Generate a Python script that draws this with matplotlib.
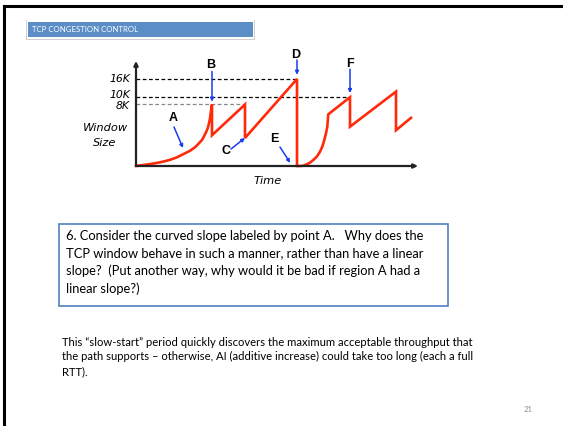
import matplotlib.pyplot as plt
import numpy as np
from matplotlib.patches import Rectangle
from matplotlib.lines import Line2D

# congestion window over time (window in K, time in arbitrary steps)
slow_start_t = [0, 0.7, 1.4, 2.1, 2.7, 3.4, 4.1, 4.7, 5.4, 5.9, 6.2, 6.6, 6.8,
                7.0, 7.17, 7.3, 7.4, 7.47, 7.53, 7.6]
slow_start_w = [0, 0.002, 0.008, 0.02, 0.04, 0.08, 0.16, 0.29, 0.49, 0.74, 1.0,
                1.43, 1.86, 2.4, 3.0, 3.85, 4.8, 5.9, 7.0, 8]
avoid_t = [7.6, 10.9, 10.9, 16.1, 16.1]
avoid_w = [2, 8, 1.66, 16, 0]
restart_t = [16.4, 16.73, 17.07, 17.4, 17.73, 18.07, 18.4, 18.63, 18.83, 19.0,
             19.13, 19.23]
restart_w = [0, 0.0002, 0.006, 0.023, 0.076, 0.18, 0.43, 0.79, 1.43, 2.26,
             3.27, 5.65]
tail_t = [21.4, 21.4, 26.0, 26.0, 27.5]
tail_w = [10, 3.27, 11.7, 2.7, 4.9]

time = slow_start_t + avoid_t + restart_t + tail_t
window = slow_start_w + avoid_w + restart_w + tail_w

# threshold lines: value, label, where the dashed line stops, colour
levels = [16, 10, 8]
level_labels = ['16K', '10K', '8K']
level_ends = [16.1, 21.4, 10.9]
level_colors = ['black', 'black', '#888888']
label_nudge = [0, 2, -2]

# letters: point the arrow hits, arrow tail offset and letter offset (pixels)
letters = ['A', 'B', 'C', 'D', 'E', 'F']
tips = [(4.7, 0.685), (7.6, 8), (10.9, 1.66), (16.1, 16), (15.5, 0.008), (21.4, 10)]
tails = [(-9, 21), (0, 33), (-14, -11), (0, 19), (-11, 17), (0, 28)]
letter_pos = [(-10, 30), (-1, 39), (-19, -13), (-1, 24), (-17, 25), (0, 33)]
tip_gap = [0, 2, 0, 3, 1, 3]

W, H = 563, 426
fig = plt.figure(figsize=(W / 100, H / 100), dpi=100)


def fx(px):
    return px / W


def fy(py):
    return 1 - py / H


# slide frame (top and left edge only)
fig.add_artist(Line2D([fx(4), 1], [fy(6), fy(6)], color='black', lw=2.2))
fig.add_artist(Line2D([fx(4), fx(4)], [fy(6), 0], color='black', lw=2.2))

# title tab
fig.add_artist(Rectangle((fx(26), fy(39.5)), fx(229), 19.5 / H, fc='#d0d0d0', ec='none'))
fig.add_artist(Rectangle((fx(26.5), fy(38.5)), fx(227.5), 18 / H, fc='white', ec='none'))
fig.add_artist(Rectangle((fx(28), fy(37)), fx(225), 15 / H, fc='#5b8ec7', ec='none'))
fig.text(fx(32), fy(29.5), 'TCP CONGESTION CONTROL', color='white', fontsize=5.6,
         family='Lato', va='center', ha='left')

# chart area
ax = fig.add_axes([fx(136), fy(166), fx(418 - 136), (166 - 61) / H])
ax.set_yscale('function', functions=(lambda v: np.sqrt(np.clip(v, 0, None)),
                                     lambda v: np.square(v)))
ax.set_xlim(0, 28.2)
ax.set_ylim(0, 23.3)
ax.axis('off')

for val, lab, end, col, nudge in zip(levels, level_labels, level_ends,
                                     level_colors, label_nudge):
    ax.plot([0, end], [val, val], ls=(0, (3, 2)), color=col, lw=0.9)
    ax.annotate(lab, xy=(0, val), xytext=(-6, nudge), textcoords='offset pixels',
                ha='right', va='center', fontsize=7.8, style='italic',
                family='DejaVu Sans', annotation_clip=False)

ax.annotate('', xy=(0, 1.0), xytext=(0, 0), xycoords='axes fraction',
            arrowprops=dict(arrowstyle='-|>', color='#222222', lw=1.6,
                            mutation_scale=6, shrinkA=0, shrinkB=0))
ax.annotate('', xy=(1.0, 0), xytext=(0, 0), xycoords='axes fraction',
            arrowprops=dict(arrowstyle='-|>', color='#222222', lw=1.6,
                            mutation_scale=6, shrinkA=0, shrinkB=0))

ax.plot(time, window, color='#ff2a0a', lw=1.9, solid_joinstyle='miter', clip_on=False)

for let, tip, tail, lp, gap in zip(letters, tips, tails, letter_pos, tip_gap):
    ax.annotate('', xy=tip, xytext=tail, textcoords='offset pixels',
                arrowprops=dict(arrowstyle='-|>', color='#1a3cf0', lw=1.1,
                                mutation_scale=5, shrinkA=0, shrinkB=gap),
                annotation_clip=False)
    ax.annotate(let, xy=tip, xytext=lp, textcoords='offset pixels',
                ha='center', va='center', fontsize=9, fontweight='bold',
                family='Liberation Sans', annotation_clip=False)

fig.text(fx(105), fy(128), 'Window', ha='center', va='center', fontsize=8.2,
         style='italic', family='DejaVu Sans')
fig.text(fx(105), fy(143), 'Size', ha='center', va='center', fontsize=8.2,
         style='italic', family='DejaVu Sans')
fig.text(fx(268), fy(181), 'Time', ha='center', va='center', fontsize=8.2,
         style='italic', family='DejaVu Sans')

# question box
fig.add_artist(Rectangle((fx(59), fy(306)), fx(448 - 59), (306 - 224) / H,
                         fc='none', ec='#4f81bd', lw=1.2))
question = ('6. Consider the curved slope labeled by point A.   Why does the\n'
            'TCP window behave in such a manner, rather than have a linear\n'
            'slope?  (Put another way, why would it be bad if region A had a\n'
            'linear slope?)')
fig.text(fx(66), fy(230), question, ha='left', va='top', fontsize=9.3,
         family='Lato', linespacing=1.5)

answer = ('This \u201cslow-start\u201d period quickly discovers the maximum acceptable throughput that\n'
          'the path supports \u2013 otherwise, AI (additive increase) could take too long (each a full\n'
          'RTT).')
fig.text(fx(62), fy(337), answer, ha='left', va='top', fontsize=8.1,
         family='Lato', linespacing=1.38)

fig.text(fx(528), fy(410), '21', ha='center', va='center', fontsize=5.6,
         color='#8c8c8c', family='Lato')

fig.savefig('out.png', dpi=100)
